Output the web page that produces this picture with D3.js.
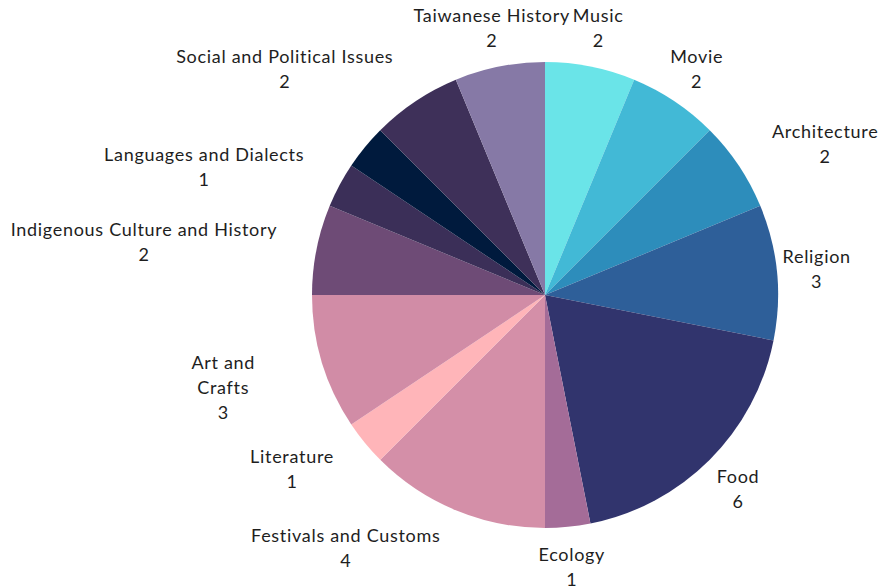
<!DOCTYPE html>
<html>
<head>
<meta charset="utf-8">
<script src="https://cdn.jsdelivr.net/npm/d3@7"></script>
<style>
  html, body { margin: 0; padding: 0; background: #ffffff; }
  svg { display: block; }
  text { font-family: "Source Sans Pro", Lato, "Open Sans", sans-serif; font-size: 18px; letter-spacing: 0.7px; fill: #1e1e1e; }
</style>
</head>
<body>
<svg id="chart" width="880" height="588"></svg>
<script>
// Topics, clockwise from twelve o'clock. A "\n" marks a wrapped label line;
// an empty name leaves the slice unlabeled.
const categories = [
  "Music", "Movie", "Architecture", "Religion", "Food", "Ecology",
  "Festivals and Customs", "Literature", "Art and\nCrafts",
  "Indigenous Culture and History", "Languages and Dialects", "",
  "Social and Political Issues", "Taiwanese History"
];
const counts = [2, 2, 2, 3, 6, 1, 4, 1, 3, 2, 1, 1, 2, 2];
const colors = [
  "#6ae4e8", "#42b9d6", "#2d8dbb", "#2e5f99", "#31346d", "#a46c98",
  "#d48fa8", "#ffb5b9", "#d18ca6",
  "#6e4b76", "#3b2f58", "#001a3d",
  "#3e3059", "#8679a6"
];

const width = 880, height = 588;
const cx = 545, cy = 295;
const radius = 233;
const labelRadius = 273;
const lineHeight = 25;

const data = categories.map((name, i) => ({ name, value: counts[i], color: colors[i] }));

const svg = d3.select("#chart");
const g = svg.append("g").attr("transform", `translate(${cx},${cy})`);

const pie = d3.pie().value(d => d.value).sort(null);
const arcs = pie(data);

const arc = d3.arc().innerRadius(0).outerRadius(radius);
const labelArc = d3.arc().innerRadius(labelRadius).outerRadius(labelRadius);

g.selectAll("path.slice")
  .data(arcs)
  .join("path")
  .attr("class", "slice")
  .attr("d", arc)
  .attr("fill", d => d.data.color);

// Measure a single-line string in the label font.
const measure = svg.append("text").attr("visibility", "hidden");
function textWidth(s) {
  measure.text(s);
  return measure.node().getComputedTextLength();
}

// Does a box (relative to the pie centre) touch the pie disc?
function hitsPie(x0, y0, x1, y1) {
  const nx = Math.max(x0, Math.min(0, x1));
  const ny = Math.max(y0, Math.min(0, y1));
  return Math.hypot(nx, ny) < radius;
}

const labels = g.append("g");
arcs.filter(d => d.data.name !== "").forEach(d => {
  const [px, py] = labelArc.centroid(d);
  const w = textWidth(d.data.name.replace(/\n/g, " "));
  const h = 2 * lineHeight;
  let x = px;
  // Centre the label on its anchor point; push it sideways off the pie if it overlaps.
  if (hitsPie(px - w / 2, py - h / 2, px + w / 2, py + h / 2)) {
    x = px + (px >= 0 ? w / 2 : -w / 2);
  }
  const lines = d.data.name.split("\n").concat([String(d.data.value)]);
  const top = py - h / 2 + lineHeight / 2;
  const t = labels.append("text")
    .attr("text-anchor", "middle")
    .attr("dominant-baseline", "central");
  lines.forEach((ln, i) => {
    t.append("tspan").attr("x", x).attr("y", top + i * lineHeight).text(ln);
  });
});
measure.remove();
</script>
</body>
</html>
